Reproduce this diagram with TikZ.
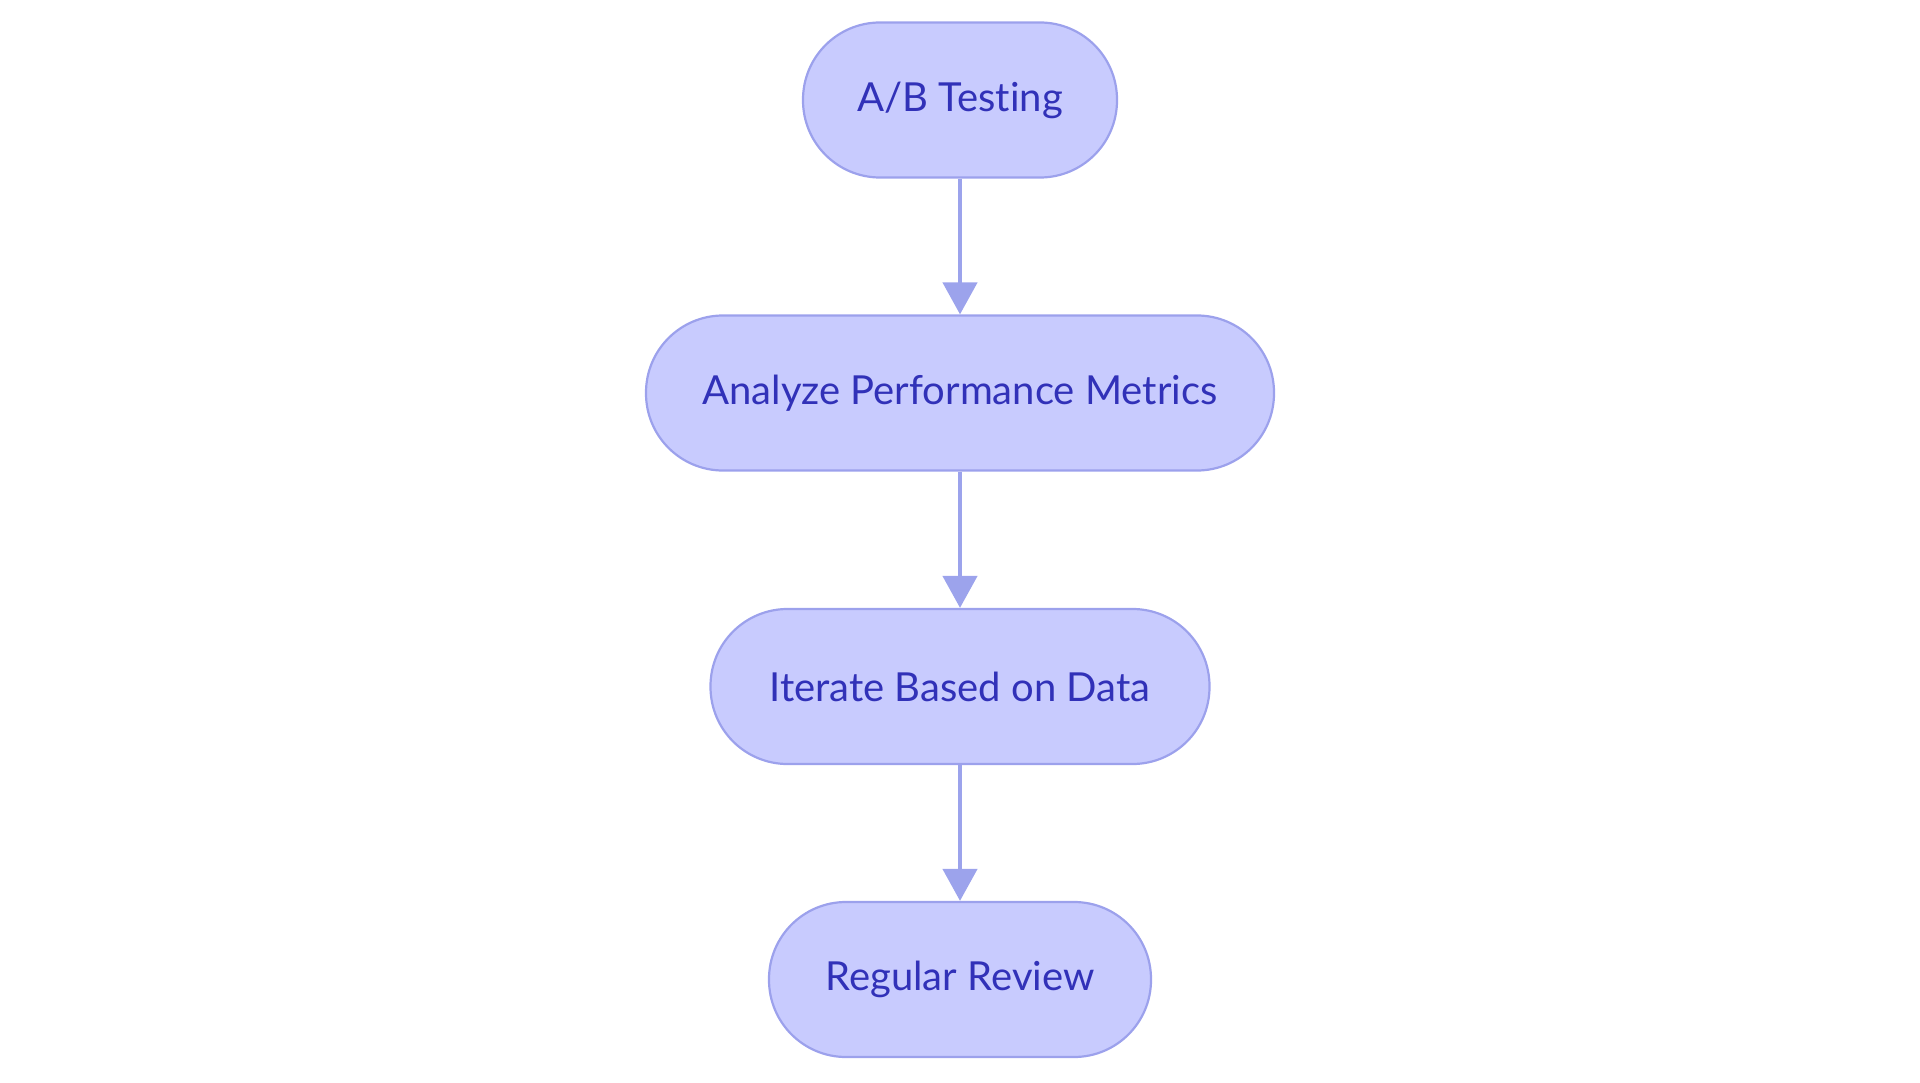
\documentclass[tikz,border=0pt]{standalone}
\usepackage{fontspec}
\setmainfont[Ligatures={NoCommon,NoRare}]{Lato}
\usetikzlibrary{arrows.meta}
\definecolor{nodefill}{HTML}{C8CBFE}
\definecolor{nodeline}{HTML}{9CA1EC}
\definecolor{txt}{HTML}{3131B8}
\definecolor{arr}{HTML}{9CA3EC}
\tikzset{
  pill/.style={draw=nodeline, fill=nodefill, line width=2.2pt, rounded corners=77pt,
    minimum height=155pt, inner sep=0pt, text=txt, font=\fontsize{40}{48}\selectfont},
  flow/.style={draw=arr, line width=4.5pt, -{Triangle[width=34pt,length=32pt]}}
}
\begin{document}
\begin{tikzpicture}[x=1pt,y=-1pt]
\useasboundingbox (0,0) rectangle (1920,1083);
\node[pill, minimum width=314pt] (a) at (960,100) {A/B Testing};
\node[pill, minimum width=628pt] (b) at (960,393) {Analyze Performance Metrics};
\node[pill, minimum width=499pt] (c) at (960,686.5) {Iterate Based on Data};
\node[pill, minimum width=382pt] (d) at (960,979.5) {Regular Review};
\draw[flow] (a) -- (b);
\draw[flow] (b) -- (c);
\draw[flow] (c) -- (d);
\end{tikzpicture}
\end{document}
